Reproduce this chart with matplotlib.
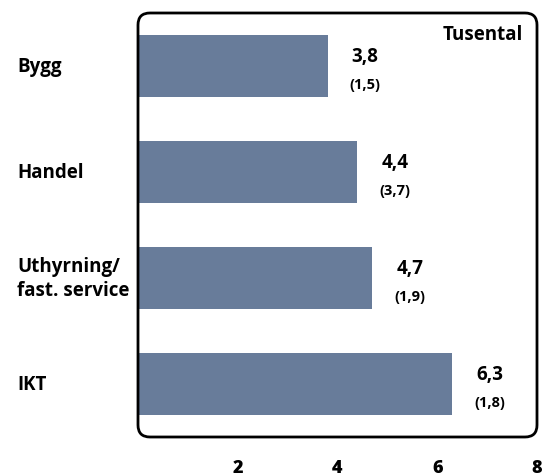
import matplotlib.pyplot as plt
from matplotlib.patches import FancyBboxPatch
from matplotlib import transforms

# ----------------------------
# Data
# ----------------------------
categories = ["Bygg", "Handel", "Uthyrning/\nfast. service", "IKT"]
values = [3.8, 4.4, 4.7, 6.3]
sub_values = ["(1,5)", "(3,7)", "(1,9)", "(1,8)"]
xticks = [2, 4, 6, 8]

plt.rcParams["font.family"] = ["Open Sans", "DejaVu Sans"]
plt.rcParams["font.weight"] = "bold"

BAR_COLOR = "#687c9a"

# ----------------------------
# Figure
# ----------------------------
W, H = 542, 477
fig = plt.figure(figsize=(W / 100, H / 100), dpi=100)
ax = fig.add_axes([138 / W, 1 - 438 / H, 399 / W, 424 / H])

ypos = list(range(len(categories)))
ax.barh(ypos, values, height=0.59, color=BAR_COLOR, zorder=2)

ax.set_xlim(0, 8)
ax.set_ylim(3.5, -0.5)

for s in ax.spines.values():
    s.set_visible(False)

ax.set_yticks([])
ax.tick_params(axis="x", length=0, pad=16)
ax.set_xticks(xticks, labels=[str(t) for t in xticks],
              fontsize=13, fontweight="heavy")

# value labels
for y, v, sv in zip(ypos, values, sub_values):
    ax.text(v + 0.75, y - 0.09, f"{v:.1f}".replace(".", ","), ha="center",
            va="center", fontsize=13.5, fontweight="bold")
    ax.text(v + 0.75, y + 0.17, sv, ha="center", va="center",
            fontsize=10.5, fontweight="bold")

# category labels
tr = transforms.blended_transform_factory(fig.transFigure, ax.transData)
for y, c in zip(ypos, categories):
    ax.text(17 / W, y, c, transform=tr, ha="left", va="center",
            fontsize=13.5, fontweight="bold", linespacing=1.25)

ax.text(0.965, 0.975, "Tusental", transform=ax.transAxes, ha="right",
        va="top", fontsize=13.5, fontweight="bold")

# rounded frame
box = FancyBboxPatch((0, 0), 1, 1, boxstyle="round,pad=0,rounding_size=0.03",
                     mutation_aspect=399 / 424, transform=ax.transAxes,
                     fill=False, edgecolor="black", linewidth=2,
                     clip_on=False, zorder=3)
ax.add_patch(box)

fig.savefig("out.png", dpi=100)
